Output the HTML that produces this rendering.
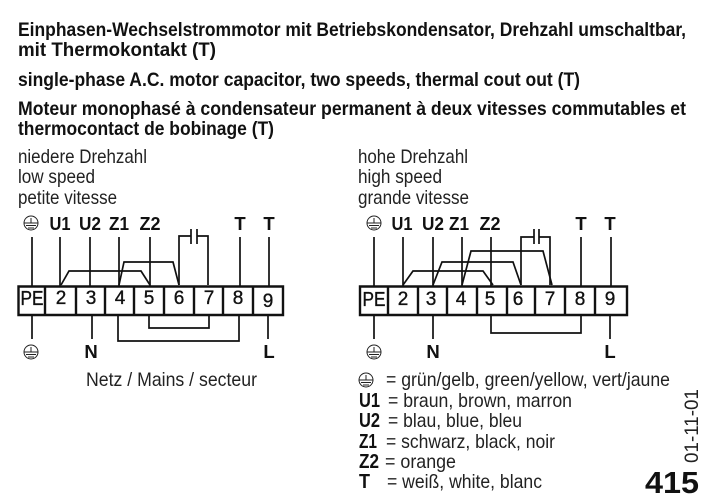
<!DOCTYPE html>
<html><head><meta charset="utf-8"><style>
html,body{margin:0;padding:0;background:#fff;width:714px;height:502px;overflow:hidden}
svg{display:block}
text{font-family:"Liberation Sans",sans-serif;fill:#111}
.t{font-size:19px;font-weight:bold}
.r{font-size:19.500px;fill:#222}
.l{font-size:18.500px;font-weight:bold;text-anchor:middle}
.n{font-size:19px;text-anchor:middle;stroke:#111;stroke-width:.35}
.k{font-size:20px;font-weight:bold}
</style></head><body>
<svg width="714" height="502" viewBox="0 0 714 502" xmlns="http://www.w3.org/2000/svg">
<defs><g id="pe" fill="none" stroke="#222" stroke-width="1"><circle r="7"/><path d="M-7 0H7M-5 2.5H5M-3 5H3M0 -5V0" /></g></defs>
<text class="t" x="18" y="36" textLength="668" lengthAdjust="spacingAndGlyphs">Einphasen-Wechselstrommotor mit Betriebskondensator, Drehzahl umschaltbar,</text>
<text class="t" x="18" y="56" textLength="198" lengthAdjust="spacingAndGlyphs">mit Thermokontakt (T)</text>
<text class="t" x="18" y="86" textLength="562" lengthAdjust="spacingAndGlyphs">single-phase A.C. motor capacitor, two speeds, thermal cout out (T)</text>
<text class="t" x="18" y="115" textLength="668" lengthAdjust="spacingAndGlyphs">Moteur monophasé à condensateur permanent à deux vitesses commutables et</text>
<text class="t" x="18" y="135" textLength="256" lengthAdjust="spacingAndGlyphs">thermocontact de bobinage (T)</text>
<text class="r" x="18" y="163" textLength="129" lengthAdjust="spacingAndGlyphs">niedere Drehzahl</text>
<text class="r" x="18" y="183" textLength="77" lengthAdjust="spacingAndGlyphs">low speed</text>
<text class="r" x="18" y="204" textLength="99" lengthAdjust="spacingAndGlyphs">petite vitesse</text>
<text class="r" x="358" y="163" textLength="110" lengthAdjust="spacingAndGlyphs">hohe Drehzahl</text>
<text class="r" x="358" y="183" textLength="84" lengthAdjust="spacingAndGlyphs">high speed</text>
<text class="r" x="358" y="204" textLength="111" lengthAdjust="spacingAndGlyphs">grande vitesse</text>

<use href="#pe" x="31" y="223"/>
<text class="l" x="60" y="230" textLength="21" lengthAdjust="spacingAndGlyphs">U1</text><text class="l" x="90" y="230" textLength="22" lengthAdjust="spacingAndGlyphs">U2</text><text class="l" x="119" y="230" textLength="20" lengthAdjust="spacingAndGlyphs">Z1</text><text class="l" x="150" y="230" textLength="21" lengthAdjust="spacingAndGlyphs">Z2</text><text class="l" x="240" y="230">T</text><text class="l" x="269" y="230">T</text>
<g fill="none" stroke="#111" stroke-width="1.7">
<path d="M32 237V286M60 237V286M90 237V286M119 237V286M150 237V286M240 237V286M269 237V286"/>
<path d="M61 285L69 271H141L150 285M119 285L124 262H173L179 285"/>
<path d="M179 285V236H191M197 236H208V285M191 229V244M197 229V244"/>
<path d="M32 315V339M92 315V339M268 315V339M149 315V328H209V315M118 315V341H239V315"/>
<path stroke-width="2.4" d="M18.500 286.500H283V315H18.500ZM45 286V315M76 286V315M105 286V315M134 286V315M164 286V315M194 286V315M223 286V315M253 286V315"/>
</g>
<text class="n" x="32" y="305" font-size="20" style="font-size:20px" textLength="23" lengthAdjust="spacingAndGlyphs">PE</text><text class="n" x="61" y="304">2</text><text class="n" x="91" y="304">3</text><text class="n" x="120" y="304">4</text><text class="n" x="149" y="304">5</text><text class="n" x="179" y="304">6</text><text class="n" x="209" y="304">7</text><text class="n" x="238" y="304">8</text><text class="n" x="268" y="307">9</text>
<use href="#pe" x="31" y="352"/>
<text class="l" x="91" y="358">N</text><text class="l" x="269" y="358">L</text>
<text class="r" x="86" y="386" textLength="171" lengthAdjust="spacingAndGlyphs">Netz / Mains / secteur</text>

<use href="#pe" x="374" y="223"/>
<text class="l" x="402" y="230" textLength="21" lengthAdjust="spacingAndGlyphs">U1</text><text class="l" x="433" y="230" textLength="22" lengthAdjust="spacingAndGlyphs">U2</text><text class="l" x="459" y="230" textLength="20" lengthAdjust="spacingAndGlyphs">Z1</text><text class="l" x="490" y="230" textLength="21" lengthAdjust="spacingAndGlyphs">Z2</text><text class="l" x="581" y="230">T</text><text class="l" x="610" y="230">T</text>
<g fill="none" stroke="#111" stroke-width="1.7">
<path d="M374 237V286M403 237V286M433 237V286M462 237V286M491 237V286M581 237V286M611 237V286"/>
<path d="M403 285L413 271H483L493 285M433 285L442 262H513L521 285M462 285L471 251H543L552 285"/>
<path d="M521 285V237H534M539 237H550V285M534 229V244M539 229V244"/>
<path d="M374 315V339M433 315V339M610 315V339M491 315V333H581V315"/>
<path stroke-width="2.4" d="M360 286.500H627V315H360ZM388 286V315M418 286V315M447 286V315M477 286V315M507 286V315M535 286V315M565 286V315M595 286V315"/>
</g>
<text class="n" x="374" y="306" style="font-size:20px" textLength="23" lengthAdjust="spacingAndGlyphs">PE</text><text class="n" x="403" y="305">2</text><text class="n" x="431" y="305">3</text><text class="n" x="461" y="305">4</text><text class="n" x="490" y="305">5</text><text class="n" x="518" y="305">6</text><text class="n" x="550" y="305">7</text><text class="n" x="580" y="305">8</text><text class="n" x="610" y="305">9</text>
<use href="#pe" x="374" y="352"/>
<text class="l" x="433" y="358">N</text><text class="l" x="610" y="358">L</text>

<use href="#pe" x="366" y="380"/>
<text class="r" x="386" y="386" textLength="284" lengthAdjust="spacingAndGlyphs">= grün/gelb, green/yellow, vert/jaune</text>
<text class="k" x="359" y="407" textLength="21" lengthAdjust="spacingAndGlyphs">U1</text><text class="r" x="388" y="407" textLength="184" lengthAdjust="spacingAndGlyphs">= braun, brown, marron</text>
<text class="k" x="359" y="427" textLength="21" lengthAdjust="spacingAndGlyphs">U2</text><text class="r" x="388" y="427" textLength="134" lengthAdjust="spacingAndGlyphs">= blau, blue, bleu</text>
<text class="k" x="359" y="448" textLength="18" lengthAdjust="spacingAndGlyphs">Z1</text><text class="r" x="386" y="448" textLength="169" lengthAdjust="spacingAndGlyphs">= schwarz, black, noir</text>
<text class="k" x="359" y="468" textLength="20" lengthAdjust="spacingAndGlyphs">Z2</text><text class="r" x="385" y="468" textLength="71" lengthAdjust="spacingAndGlyphs">= orange</text>
<text class="k" x="359" y="488" textLength="11" lengthAdjust="spacingAndGlyphs">T</text><text class="r" x="387" y="488" textLength="155" lengthAdjust="spacingAndGlyphs">= weiß, white, blanc</text>
<text class="r" transform="translate(698 463) rotate(-90)" textLength="74" lengthAdjust="spacingAndGlyphs">01-11-01</text>
<text x="645" y="493" font-size="31" font-weight="bold" textLength="54" lengthAdjust="spacingAndGlyphs">415</text>
</svg>
</body></html>
